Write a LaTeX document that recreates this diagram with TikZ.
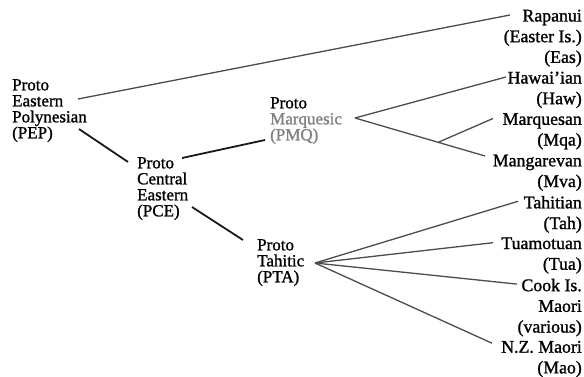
\documentclass[tikz,border=0pt]{standalone}
\usepackage{fontspec}
\setmainfont{Liberation Serif}[FakeBold=1.2]
\begin{document}
\begin{tikzpicture}[x=1pt,y=-1pt]
    \tikzstyle{every node}=[inner sep=0pt];
    \tikzstyle{proto}=[align=left,anchor=north west,font=\fontsize{17}{16}\selectfont];
    \tikzstyle{lang}=[align=right,anchor=north east,font=\fontsize{17.8}{20.7}\selectfont];
    \tikzstyle{trunk}=[draw,line width=1.8pt,black!90];
    \tikzstyle{twig}=[draw,line width=1.3pt,black!70];

    \useasboundingbox (0,0) rectangle (584,377);

    \node[proto] at (12,79)  (pep) {Proto\\Eastern\\Polynesian\\(PEP)};
    \node[proto] at (137,157) (pce) {Proto\\Central\\Eastern\\(PCE)};
    \node[proto] at (270,97) (pmq) {Proto\\\textcolor{black!50}{Marquesic}\\\textcolor{black!50}{(PMQ)}};
    \node[proto] at (257,239) (pta) {Proto\\Tahitic\\(PTA)};

    \node[lang] at (582,9.5)   (eas) {Rapanui\\(Easter Is.)\\(Eas)};
    \node[lang] at (582,71.5)  (haw) {Hawai\symbol{39}ian\\(Haw)};
    \node[lang] at (582,113)   (mqa) {Marquesan\\(Mqa)};
    \node[lang] at (582,154.5) (mva) {Mangarevan\\(Mva)};
    \node[lang] at (582,195.8) (tah) {Tahitian\\(Tah)};
    \node[lang] at (582,237.2) (tua) {Tuamotuan\\(Tua)};
    \node[lang] at (582,278.6) (coo) {Cook Is.\\Maori\\(various)};
    \node[lang] at (582,340.7) (mao) {N.Z. Maori\\(Mao)};

    \coordinate (pmqtip) at ([shift={(85,21)}]pmq.north west);
    \coordinate (ptatip) at ([shift={(58,24)}]pta.north west);

    \draw[trunk] ([shift={(67,50)}]pep.north west) to ([shift={(-9,5)}]pce.north west);
    \draw[trunk] ([shift={(45,1)}]pce.north west) to ([shift={(-5,43)}]pmq.north west);
    \draw[trunk] ([shift={(55,50)}]pce.north west) to ([shift={(-14,1)}]pta.north west);

    \draw[twig] ([shift={(66,20)}]pep.north west) to ([shift={(-72,5.5)}]eas.north east);

    \draw[twig] (pmqtip) to ([shift={(-76,5.5)}]haw.north east);
    \draw[twig] (pmqtip) -- coordinate[pos=0.64] (fork) ([shift={(-97,1.5)}]mva.north east);
    \draw[twig] (fork) to ([shift={(-89,5.5)}]mqa.north east);

    \draw[twig] (ptatip) to ([shift={(-64,5.5)}]tah.north east);
    \draw[twig] (ptatip) to ([shift={(-89,5.5)}]tua.north east);
    \draw[twig] (ptatip) to ([shift={(-65,5.5)}]coo.north east);
    \draw[twig] (ptatip) to ([shift={(-90,2.5)}]mao.north east);
\end{tikzpicture}
\end{document}
